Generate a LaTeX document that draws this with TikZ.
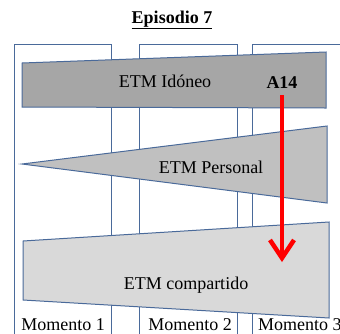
\documentclass[tikz,border=0pt]{standalone}
\usepackage{fontspec}
\setmainfont{Liberation Serif}
\usetikzlibrary{arrows.meta}
\definecolor{edgeblue}{HTML}{4A6A9A}
\definecolor{gA}{HTML}{A6A6A6}
\definecolor{gB}{HTML}{C0C0C0}
\definecolor{gC}{HTML}{D9D9D9}
\tikzset{
  colbox/.style={draw=edgeblue, line width=1pt},
  band/.style={draw=edgeblue, line width=1pt},
  lbl/.style={font=\fontsize{18}{20}\selectfont, inner sep=0pt, anchor=center},
  redarrow/.style={draw=red, line width=4.5pt, -{Straight Barb[length=18pt,width=24pt]}}
}
\begin{document}
\begin{tikzpicture}[x=1pt,y=-1pt]
\useasboundingbox (0,0) rectangle (340,333);
\begin{scope}
\clip (0,0) rectangle (340,333);
\draw[colbox] (14,340) -- (14,44) -- (111,44) -- (111,340);
\draw[colbox] (139,340) -- (139,44) -- (237,44) -- (237,340);
\draw[colbox] (252,340) -- (252,44) -- (345,44);
\end{scope}
\node[lbl, font=\fontsize{18}{20}\selectfont\bfseries] (title) at (172,20) {\underline{Episodio 7}};
% bands
\draw[band, fill=gA] (22,63) -- (326,52) -- (326,108) -- (22,107) -- cycle;
\draw[band, fill=gB] (22,164) -- (327,126) -- (327,203) -- cycle;
\draw[band, fill=gC] (23,241) -- (329,222) -- (329,318) -- (23,300) -- cycle;
\node[lbl] (idoneo) at (165,81) {ETM Idóneo};
\node[lbl, font=\fontsize{18}{20}\selectfont\bfseries] (a14) at (282,83) {A14};
\node[lbl] (personal) at (211,167) {ETM Personal};
\node[lbl] (compartido) at (186,285) {ETM compartido};
\node[lbl] (m1) at (63,325) {Momento 1};
\node[lbl] (m2) at (190,325) {Momento 2};
\node[lbl, anchor=west] (m3) at (258,325) {Momento 3};
\coordinate (arrS) at (282,95);
\coordinate (arrE) at (282,262);
\draw[redarrow] (arrS) -- (arrE);
\end{tikzpicture}
\end{document}
